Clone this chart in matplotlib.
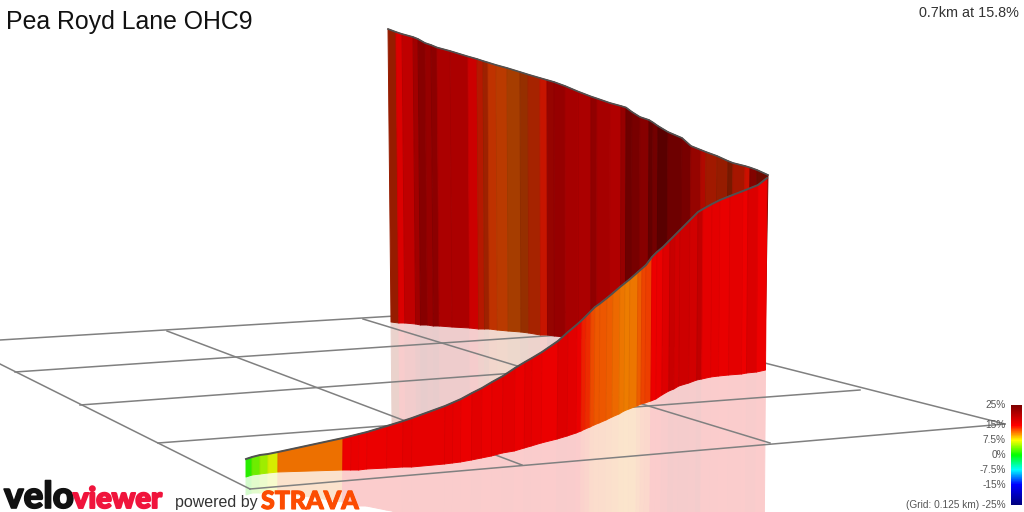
import numpy as np
import matplotlib
matplotlib.use("Agg")
import matplotlib.pyplot as plt
import matplotlib.patheffects as pe
from matplotlib.collections import PolyCollection, LineCollection
from matplotlib.colors import LinearSegmentedColormap, Normalize

# values, all in screen pixels or percent
title = "Pea Royd Lane OHC9"
summary = "0.7km at 15.8%"
scale_ticks = [25, 15, 7.5, 0, -7.5, -15, -25]
scale_labels = ["25%", "15%", "7.5%", "0%", "-7.5%", "-15%", "(Grid: 0.125 km) -25%"]

ribbon_x = [246, 252, 260, 268, 278, 343, 351, 359, 367, 387, 403, 412, 445, 453, 461, 472, 482, 492, 503,
            515, 525, 532, 542, 558, 568, 577, 582, 586, 591, 595, 600, 607, 613, 620, 625, 630, 638, 642,
            646, 652, 657, 663, 670, 675, 680, 690, 698, 703, 712, 720, 730, 743, 748, 758, 767]
ribbon_top = [459, 457, 455, 454, 452, 438, 436, 434, 432, 426, 421, 418, 406, 402.5, 399, 393, 388, 382, 376,
              368, 362, 358, 352, 341, 332, 324.5, 320, 316, 311, 307, 303.5, 298, 293, 287, 283, 279, 272, 268.5,
              265, 257, 252, 247, 240, 235, 230, 220, 212, 209, 204, 200, 196, 191, 189, 185, 178]
ribbon_base = [477, 475, 474, 473, 472, 470, 470, 470, 469, 468, 467, 467, 464, 463, 462, 460, 458, 456, 453,
               451, 448, 446, 443, 439, 436, 433, 431, 429, 427, 425, 423, 420, 417, 414, 411, 409, 406, 404,
               403, 401, 399, 395, 391, 389, 386, 383, 380, 379, 377, 376, 375, 374, 373, 372, 370]
ribbon_grade = [1.2, 3.5, 4.9, 6.8, 11.5, 15, 15.3, 15, 15.2, 15.4, 15.8, 15.6, 15.8, 15.5, 15.2, 15.9, 15.4,
                15.6, 16, 15.3, 16, 15.6, 15.2, 16.4, 16, 15.1, 14, 13.5, 12.6, 12.3, 12.2, 12, 11.7, 11.2,
                11, 11.3, 12, 12.8, 13, 15, 15.2, 16.4, 18, 17.2, 17.6, 17.2, 18.6, 15.8, 15.8, 15.4, 15.8,
                15, 16.6, 15]

wall_x = [388, 396, 402, 413, 418, 425, 431, 437, 450, 468, 477, 483, 488, 496, 507, 520, 528, 540, 547, 554,
          565, 578, 591, 597, 610, 621, 626, 632, 640, 649, 653, 658, 668, 682, 691, 701, 706, 717, 728, 733,
          745, 750, 757, 768]
wall_top = [29, 32, 34, 37, 39, 43, 45, 47.5, 51, 56.5, 59, 61, 62.5, 65, 68, 72, 74.5, 78, 80, 82,
            86, 91.5, 96.5, 98.5, 103, 106, 107.5, 112, 117, 120, 122.5, 126, 132, 138, 146, 150, 152, 156, 161, 163,
            166, 167.5, 170, 175]
wall_base = [322, 323, 323, 324, 325, 325, 326, 326, 327, 328, 329, 329, 329, 330, 331, 332, 333, 335, 335, 336,
             337, 338, 339, 340, 341, 342, 342, 343, 344, 344, 345, 345, 346, 347, 348, 348, 349, 349, 350, 350,
             350, 351, 351, 351]
wall_grade = [13.5, 15, 15, 15, 15, 15, 15, 15, 15, 15, 14, 13.4, 13, 12.6, 12.3, 12.5, 13.4, 14.1, 14.75, 15,
              15, 15, 15, 15, 15, 15, 15, 15, 15, 15, 15, 15, 15, 15, 14.8, 14.6, 13.8, 13.5, 13.4, 13.9,
              14.3, 14.7, 14.3]
wall_light = [0.59, 0.86, 0.75, 0.63, 0.53, 0.59, 0.55, 0.67, 0.67, 0.80, 0.71, 0.62, 0.75, 0.73, 0.65, 0.59,
              0.65, 0.78, 0.59, 0.59, 0.65, 0.67, 0.57, 0.65, 0.69, 0.59, 0.43, 0.47, 0.53, 0.39, 0.45, 0.35,
              0.43, 0.47, 0.59, 0.69, 0.63, 0.59, 0.47, 0.65, 0.80, 0.51, 0.43]

grid_x0 = [0, 15, 80, 158, 250, 0, 167, 363, 560]
grid_y0 = [340, 372, 405, 443, 489, 364, 331, 319, 311]
grid_x1 = [560, 560, 515, 860, 1005, 250, 522, 770, 1005]
grid_y1 = [306, 335, 373, 390, 424, 489, 465, 443, 424]

GRID_COLOR = "#808080"
EDGE_COLOR = "#505050"
RIBBON_SHADE = 0.93
REFLECT = 0.2

grade_cmap = LinearSegmentedColormap.from_list("grade", [
    (0.0, "#000080"), (0.2, "#0000ff"), (0.35, "#00ffff"), (0.5, "#00ff00"),
    (0.65, "#ffff00"), (0.8, "#ff0000"), (1.0, "#800000")])
norm = Normalize(-25, 25)


def strips(x_top, y_top, x_base, y_base):
    polys = []
    for i in range(len(x_top) - 1):
        polys.append([(x_top[i], y_top[i]), (x_top[i + 1], y_top[i + 1]),
                      (x_base[i + 1], y_base[i + 1]), (x_base[i], y_base[i])])
    return polys


def draw_strips(polys, rgb, z):
    # edges a bit wider than a pixel hide the seams between strips
    ax.add_collection(PolyCollection(polys, facecolors=rgb, edgecolors=rgb, linewidths=0.7, zorder=z))


def seams(x_top, y_top, x_base, y_base, z):
    segs = [[(x_top[i], y_top[i]), (x_base[i], y_base[i])] for i in range(1, len(x_top) - 1)]
    ax.add_collection(LineCollection(segs, colors=[(0, 0, 0, 0.05)], linewidths=0.6, zorder=z))


fig = plt.figure(figsize=(10.24, 5.12), dpi=100)
ax = fig.add_axes([0, 0, 1, 1])

wall_x = np.array(wall_x, dtype=float)
wall_top = np.array(wall_top, dtype=float)
wall_base = np.array(wall_base, dtype=float)
ribbon_x = np.array(ribbon_x, dtype=float)
ribbon_top = np.array(ribbon_top, dtype=float)
ribbon_base = np.array(ribbon_base, dtype=float)

# the walls lean a little in the perspective view
wall_xb = wall_x + 3 * (768 - wall_x) / 380 - 3 * (wall_x - 388) / 380
ribbon_xb = ribbon_x - 1.5 * (ribbon_x - 246) / 521

wall_rgb = grade_cmap(norm(wall_grade))[:, :3] * np.array(wall_light)[:, None]
ribbon_rgb = grade_cmap(norm(ribbon_grade))[:, :3] * RIBBON_SHADE

# mirrored walls on the ground
wall_pale = 1 - REFLECT * (1 - wall_rgb)
ribbon_pale = 1 - REFLECT * (1 - ribbon_rgb)
draw_strips(strips(wall_xb, wall_base, 2 * wall_xb - wall_x, 2 * wall_base - wall_top), wall_pale, 1)
draw_strips(strips(ribbon_xb, ribbon_base, 2 * ribbon_xb - ribbon_x, 2 * ribbon_base - ribbon_top), ribbon_pale, 2)

for i in range(len(grid_x0)):
    ax.plot([grid_x0[i], grid_x1[i]], [grid_y0[i], grid_y1[i]], color=GRID_COLOR, lw=1.1, zorder=3)

# back wall then front ribbon
draw_strips(strips(wall_x, wall_top, wall_xb, wall_base), wall_rgb, 4)
seams(wall_x, wall_top, wall_xb, wall_base, 4.5)
ax.plot(wall_x, wall_top, color=EDGE_COLOR, lw=1.2, zorder=5)
draw_strips(strips(ribbon_x, ribbon_top, ribbon_xb, ribbon_base), ribbon_rgb, 6)
seams(ribbon_x, ribbon_top, ribbon_xb, ribbon_base, 6.5)
ax.plot(ribbon_x, ribbon_top, color=EDGE_COLOR, lw=1.4, zorder=7)

# colour scale
ramp = np.linspace(25, -25, 100).reshape(-1, 1)
ax.imshow(ramp, cmap=grade_cmap, norm=norm, extent=(1011, 1022, 505, 405), aspect="auto", zorder=8)
for tick, label in zip(scale_ticks, scale_labels):
    y = 455 - tick * 2
    ax.text(1006, y, label, ha="right", va="center", fontsize=7.3, color="#555555",
            family="Liberation Sans", zorder=9)

ax.text(6, 29, title, fontsize=17.9, family="Liberation Sans", color="#111111", va="baseline", zorder=9)
ax.text(1019, 13, summary, fontsize=10.4, family="Liberation Sans", color="#333333",
        ha="right", va="center", zorder=9)

# logos
ax.text(4, 508, "velo", fontsize=26.5, family="Lato", fontweight="black", color="#111111", va="baseline", zorder=9,
        path_effects=[pe.withStroke(linewidth=1.2, foreground="#111111")])
ax.text(73, 508, "viewer", fontsize=21, family="Lato", fontweight="black", color="#f0143c", va="baseline", zorder=9,
        path_effects=[pe.withStroke(linewidth=1.4, foreground="#f0143c")])
ax.text(175, 502, "powered by", fontsize=11.5, family="Liberation Sans", color="#333333", va="center", zorder=9)
ax.text(261, 509, "STRAVA", fontsize=18, family="Lato", fontweight="black", color="#fc4c02", va="baseline", zorder=9,
        path_effects=[pe.withStroke(linewidth=0.8, foreground="#fc4c02")])

ax.set_xlim(0, 1024)
ax.set_ylim(512, 0)
ax.axis("off")
fig.savefig("out.png", dpi=100)
